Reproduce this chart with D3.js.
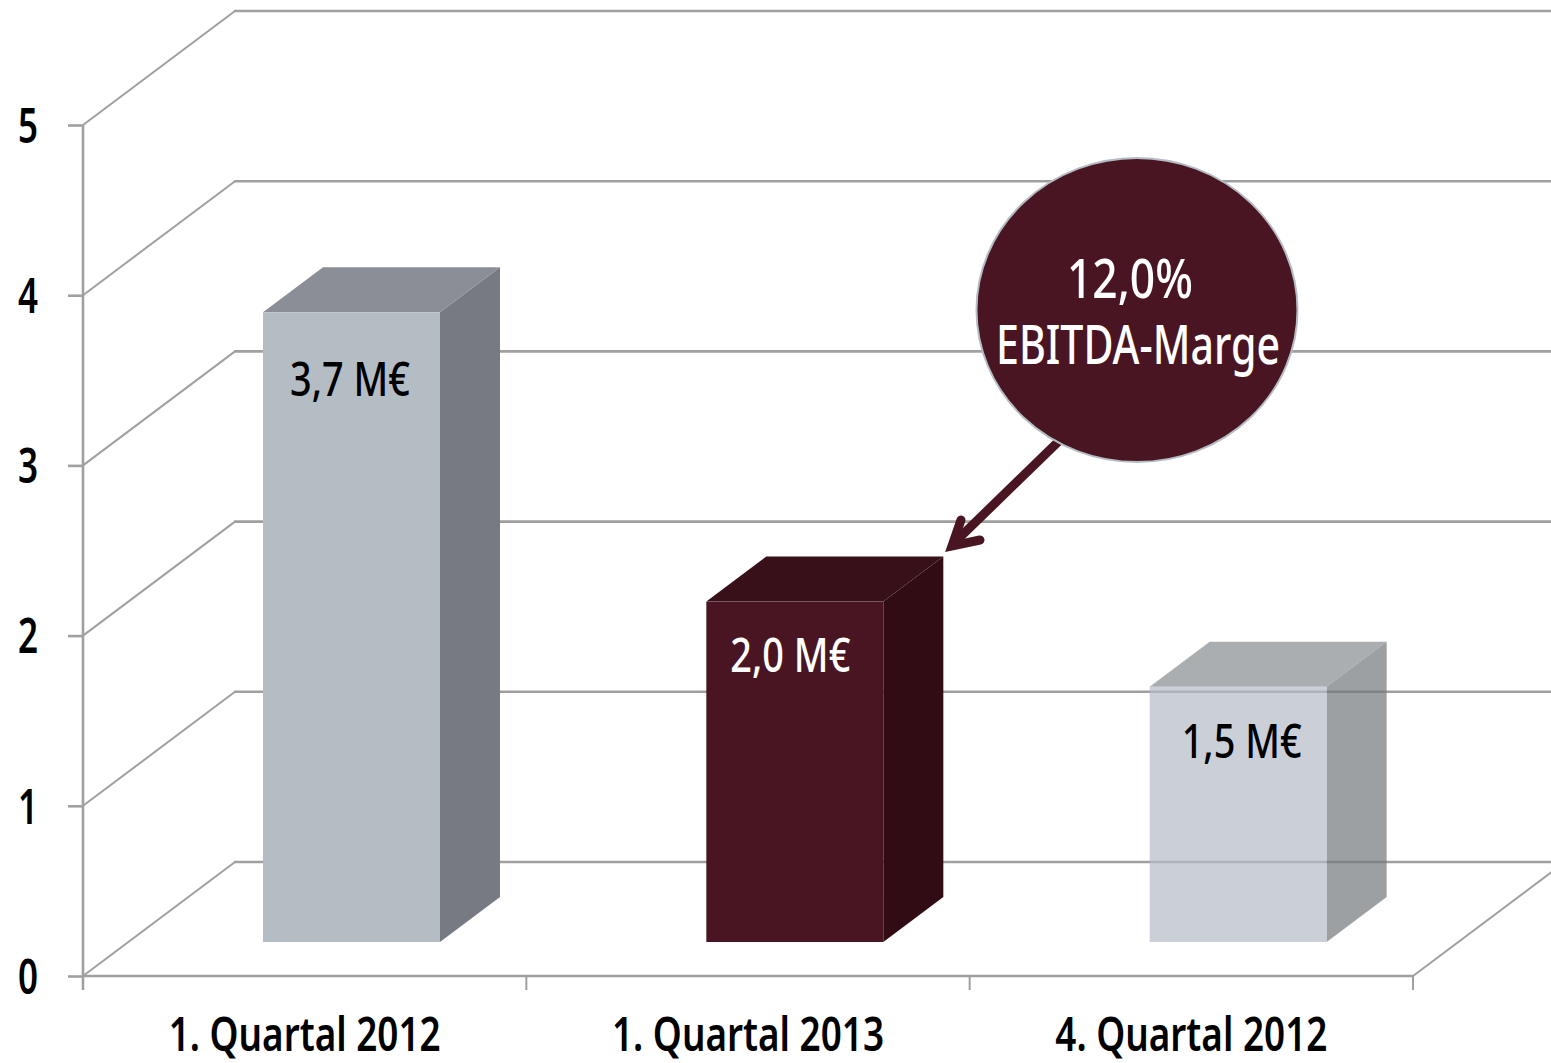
<!DOCTYPE html>
<html>
<head>
<meta charset="utf-8">
<style>
  html, body { margin: 0; padding: 0; background: #fff; }
  text { font-family: "Noto Sans", sans-serif; font-weight: 500; }
</style>
<script src="https://cdnjs.cloudflare.com/ajax/libs/d3/7.8.5/d3.min.js"></script>
</head>
<body>
<div id="chart"></div>
<script>
// data
const categories = ["1. Quartal 2012", "1. Quartal 2013", "4. Quartal 2012"];
const revenue = [3.7, 2.0, 1.5];
const valueLabels = ["3,7 M€", "2,0 M€", "1,5 M€"];
const yTicks = [0, 1, 2, 3, 4, 5];
const calloutLines = ["12,0%", "EBITDA-Marge"];

const frontColors = ["#b5bdc4", "#4a1522", "#b5bac6"];
const sideColors = ["#777a82", "#310c14", "#72777a"];
const topColors = ["#8b8e96", "#37101a", "#878b8f"];
const labelColors = ["#000", "#fff", "#000"];
const barOpacity = [1, 1, 0.7]; // the last bar lets the grid through

const width = 1551, height = 1063;
const gridColor = "#a0a0a0";

// 3d depth of the walls and of the bars
const wall = {dx: 152, dy: -114};
const depth = {dx: 60, dy: -45};
const barInset = 180, barWidth = 177, barBase = 34;

// the installed fonts are too wide, so squeeze texts to the widths in the picture
const squeeze = (sel, w) => sel
    .attr("textLength", w)
    .attr("lengthAdjust", "spacingAndGlyphs");

const svg = d3.select("#chart").append("svg")
    .attr("width", width)
    .attr("height", height)
    .style("display", "block");

const x = d3.scaleBand().domain(categories).range([83, 1413]);
const y = d3.scaleLinear().domain([0, 5]).range([976, 125]);

const line = d3.line();

// back wall lines and the diagonals on the left wall
const grid = svg.append("g")
    .attr("fill", "none")
    .attr("stroke", gridColor);

grid.selectAll("path.diag")
    .data(yTicks)
    .join("path")
    .attr("class", "diag")
    .attr("stroke-width", 2)
    .attr("d", d => line([
        [x.range()[0], y(d)],
        [x.range()[0] + wall.dx, y(d) + wall.dy]
    ]));

grid.selectAll("path.back")
    .data(yTicks)
    .join("path")
    .attr("class", "back")
    .attr("stroke-width", 2.6)
    .attr("d", d => line([
        [x.range()[0] + wall.dx - 1, y(d) + wall.dy],
        [width + 5, y(d) + wall.dy]
    ]));

// floor edge on the right
grid.append("path")
    .attr("stroke-width", 2)
    .attr("d", line([
        [x.range()[1], y(0)],
        [x.range()[1] + wall.dx, y(0) + wall.dy]
    ]));

// axes
const yAxis = d3.axisLeft(y).tickValues(yTicks).tickFormat(d3.format("d")).tickSize(15).tickPadding(30);
const xAxis = d3.axisBottom(x).tickSize(14).tickPadding(28);

const gy = svg.append("g").attr("transform", `translate(${x.range()[0]},0)`).call(yAxis);
const gx = svg.append("g").attr("transform", `translate(0,${y(0)})`).call(xAxis);

[gy, gx].forEach(g => {
    g.selectAll("path, line").attr("stroke", gridColor).attr("stroke-width", 2.6);
    g.selectAll("text")
        .attr("fill", "#000")
        .style("font-weight", 600);
});
squeeze(gy.selectAll("text"), 20).style("font-size", "48px").attr("dy", "0.36em");
squeeze(gx.selectAll("text"), 272).style("font-size", "46px");

// band ticks sit on the band edges, not in the middle
gx.selectAll(".tick line").remove();
gx.selectAll("line.edge")
    .data([...categories.map(c => x(c)), x.range()[1]])
    .join("line")
    .attr("class", "edge")
    .attr("x1", d => d).attr("x2", d => d)
    .attr("y1", 0).attr("y2", 14)
    .attr("stroke", gridColor)
    .attr("stroke-width", 2);
gx.select(".domain").attr("d", `M${x.range()[0]},0H${x.range()[1]}`);
gy.select(".domain").attr("d", `M0,${y(5)}V${y(0) + 14}`);

// bars
const bars = svg.append("g").selectAll("g")
    .data(categories)
    .join("g");

const barLeft = c => x(c) + barInset;
const barBottom = y(0) - barBase;
const barTop = i => barBottom - (y(0) - y(revenue[i]));

bars.append("path")
    .attr("fill", (c, i) => sideColors[i])
    .attr("fill-opacity", (c, i) => barOpacity[i])
    .attr("d", (c, i) => {
        const r = barLeft(c) + barWidth;
        return line([[r, barTop(i)], [r + depth.dx, barTop(i) + depth.dy],
            [r + depth.dx, barBottom + depth.dy], [r, barBottom]]) + "Z";
    });

bars.append("path")
    .attr("fill", (c, i) => topColors[i])
    .attr("fill-opacity", (c, i) => barOpacity[i])
    .attr("d", (c, i) => {
        const l = barLeft(c), r = l + barWidth;
        return line([[l, barTop(i)], [l + depth.dx, barTop(i) + depth.dy],
            [r + depth.dx, barTop(i) + depth.dy], [r, barTop(i)]]) + "Z";
    });

bars.append("rect")
    .attr("fill", (c, i) => frontColors[i])
    .attr("fill-opacity", (c, i) => barOpacity[i])
    .attr("x", barLeft)
    .attr("y", (c, i) => barTop(i))
    .attr("width", barWidth)
    .attr("height", (c, i) => barBottom - barTop(i));

// value labels were placed by hand in the original, hence the different nudges
const labelDx = [87, 84, 92], labelDy = [84, 70, 71];
bars.append("text")
    .attr("x", (c, i) => barLeft(c) + labelDx[i])
    .attr("y", (c, i) => barTop(i) + labelDy[i])
    .attr("text-anchor", "middle")
    .attr("fill", (c, i) => labelColors[i])
    .style("font-size", "47px")
    .text((c, i) => valueLabels[i])
    .call(squeeze, 120);

// callout with its arrow
const arrowColor = "#4a1522";
svg.append("path")
    .attr("fill", "none")
    .attr("stroke", arrowColor)
    .attr("stroke-width", 9)
    .attr("d", line([[1060, 440], [954, 543]]));
svg.append("path")
    .attr("fill", "none")
    .attr("stroke", arrowColor)
    .attr("stroke-width", 9)
    .attr("stroke-linecap", "round")
    .attr("stroke-linejoin", "miter")
    .attr("d", line([[961, 520], [952, 546], [980, 540]]));

svg.append("ellipse")
    .attr("cx", 1137).attr("cy", 310)
    .attr("rx", 160.5).attr("ry", 152)
    .attr("fill", "#4a1522")
    .attr("stroke", "#b5bdc4")
    .attr("stroke-width", 2);

const calloutWidths = [126, 284], calloutDx = [-7, 1];
svg.append("g").selectAll("text")
    .data(calloutLines)
    .join("text")
    .attr("x", (d, i) => 1137 + calloutDx[i])
    .attr("y", (d, i) => 298 + i * 66)
    .attr("text-anchor", "middle")
    .attr("fill", "#fff")
    .style("font-size", "55px")
    .text(d => d)
    .each(function(d, i) { d3.select(this).call(squeeze, calloutWidths[i]); });
</script>
</body>
</html>
